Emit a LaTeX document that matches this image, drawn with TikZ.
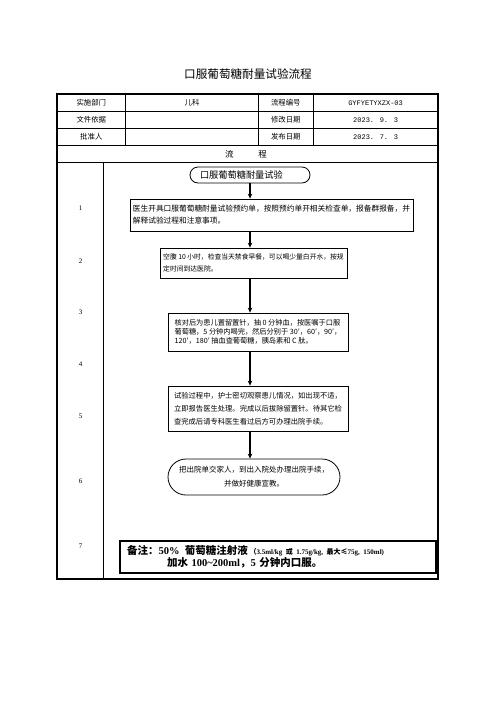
\documentclass[tikz,border=0pt]{standalone}
\usepackage{fontspec}
\setmainfont{Liberation Serif}
\newfontfamily\cjk{Noto Sans CJK SC}
\newfontfamily\mono{Liberation Mono}
\usetikzlibrary{arrows.meta}
\begin{document}
\begin{tikzpicture}[x=1pt,y=-1pt,
  gridline/.style={line width=0.6pt},
  outerline/.style={line width=1.4pt},
  cell/.style={font=\cjk\fontsize{7.4}{9}\selectfont, inner sep=0pt},
  monocell/.style={font=\mono\fontsize{7}{9}\selectfont, inner sep=0pt},
  num/.style={font=\fontsize{7}{9}\selectfont, inner sep=0pt},
  proc/.style={draw, line width=0.8pt, align=left, inner sep=0pt},
  term/.style={draw, line width=0.8pt, inner sep=0pt},
  arr/.style={line width=1.1pt, -{Stealth[length=5pt,width=4.5pt]}},
  notebox/.style={draw, line width=1.1pt, inner ysep=0pt, inner xsep=7pt, align=left}
]
\useasboundingbox (0,0) rectangle (496,702);
\fill[white] (0,0) rectangle (496,702);

% title
\node[inner sep=0pt, font=\cjk\fontsize{11.6}{14}\selectfont] (title) at (248,74) {口服葡萄糖耐量试验流程};

% table grid
\draw[gridline] (57,111.7) -- (438,111.7);
\draw[gridline] (57,128.3) -- (438,128.3);
\draw[gridline] (57,145.7) -- (438,145.7);
\draw[gridline] (57,162.3) -- (438,162.3);
\draw[gridline] (125.7,94) -- (125.7,145.7);
\draw[gridline] (258.3,94) -- (258.3,145.7);
\draw[gridline] (313.3,94) -- (313.3,145.7);
\draw[gridline] (103.3,162.3) -- (103.3,579);
\draw[outerline] (57,94) rectangle (438,579);

% header cells
\node[cell] (h11) at (91.3,103) {实施部门};
\node[cell] (h12) at (192,103) {儿科};
\node[cell] (h13) at (285.8,103) {流程编号};
\node[monocell] (h14) at (375.6,103) {GYFYETYXZX-03};
\node[cell] (h21) at (91.3,120) {文件依据};
\node[cell] (h23) at (285.8,120) {修改日期};
\node[monocell] (h24) at (375.6,120) {2023. 9. 3};
\node[cell] (h31) at (91.3,137) {批准人};
\node[cell] (h33) at (285.8,137) {发布日期};
\node[monocell] (h34) at (375.6,137) {2023. 7. 3};
\node[cell, font=\cjk\fontsize{8.5}{10}\selectfont] (h41) at (246,154) {流\hspace{25pt}程};

% step numbers
\node[num] (n1) at (80.5,208) {1};
\node[num] (n2) at (80.5,261) {2};
\node[num] (n3) at (80.5,312) {3};
\node[num] (n4) at (80.5,364) {4};
\node[num] (n5) at (80.5,416) {5};
\node[num] (n6) at (80.5,481) {6};
\node[num] (n7) at (80.5,546) {7};

% flow
\coordinate (ax) at (250,0);
\node[term, rounded corners=8pt, minimum width=120pt, minimum height=16pt, text width=100pt, inner xsep=10pt, align=left,
      font=\cjk\fontsize{9.2}{11}\selectfont] (t1) at (250,175) {口服葡萄糖耐量试验};
\node[proc, minimum width=283pt, minimum height=32pt, font=\cjk\fontsize{7.7}{12}\selectfont] (b1) at (271.5,215)
  {医生开具口服葡萄糖耐量试验预约单，按照预约单开相关检查单，报备群报备，并\\解释试验过程和注意事项。};
\node[proc, minimum width=187pt, minimum height=30pt, font=\cjk\fontsize{6.8}{12}\selectfont] (b2) at (253.5,263)
  {空腹~10~小时，检查当天禁食早餐，可以喝少量白开水，按规\\定时间到达医院。};
\node[proc, minimum width=180pt, minimum height=38pt, font=\cjk\fontsize{7.2}{9}\selectfont] (b3) at (258,332)
  {核对后为患儿置留置针，抽~0~分钟血，按医嘱于口服\\葡萄糖，5~分钟内喝完，然后分别于~30′，60′，90′，\\120′，180′~抽血查葡萄糖，胰岛素和~C~肽。};
\node[proc, minimum width=180pt, minimum height=45pt, font=\cjk\fontsize{7.3}{13}\selectfont] (b4) at (258,408.5)
  {试验过程中，护士密切观察患儿情况，如出现不适，\\立即报告医生处理。完成以后拔除留置针。待其它检\\查完成后请专科医生看过后方可办理出院手续。};
\node[term, rounded corners=18pt, minimum width=172pt, minimum height=36pt, align=center,
      font=\cjk\fontsize{7.5}{14}\selectfont] (t2) at (254,477)
  {把出院单交家人，到出入院处办理出院手续，\\并做好健康宣教。};

\draw[arr] (t1.south -| ax) -- (b1.north -| ax);
\draw[arr] (b1.south -| ax) -- (b2.north -| ax);
\draw[arr] (b2.south -| ax) -- (b3.north -| ax);
\draw[arr] (b3.south -| ax) -- (b4.north -| ax);
\draw[arr] (b4.south -| ax) -- (t2.north -| ax);

% note
\node[notebox, minimum width=316pt, minimum height=32pt, text width=302pt, font=\bfseries\fontsize{10.5}{12}\selectfont] (note) at (278,557)
  {{\cjk\bfseries 备注：}50\%\ \,{\cjk\bfseries 葡萄糖注射液}\,{\fontsize{7}{12}\selectfont{\cjk （}3.5ml/kg {\cjk\bfseries 或} 1.75g/kg, {\cjk\bfseries 最大≤}75g, 150ml)}\\
   \hspace*{40pt}{\cjk\bfseries 加水} 100\textasciitilde200ml{\cjk\bfseries ，}5 {\cjk\bfseries 分钟内口服。}};
\end{tikzpicture}
\end{document}
